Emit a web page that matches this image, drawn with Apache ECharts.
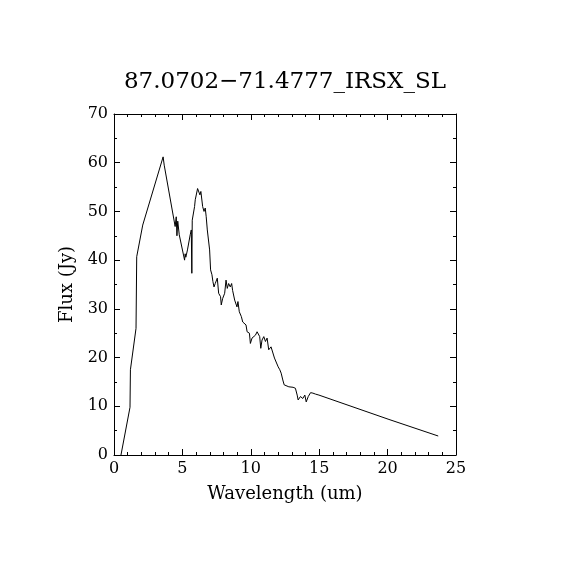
<!DOCTYPE html>
<html>
<head>
<meta charset="utf-8">
<script src="https://cdn.jsdelivr.net/npm/echarts@6/dist/echarts.min.js"></script>
<style>
  html, body { margin: 0; padding: 0; background: #fff; }
  #chart { width: 570px; height: 570px; }
</style>
</head>
<body>
<div id="chart"></div>
<script>
// spectrum: wavelength (um) and flux (Jy)
var wave = [0.51, 1.17, 1.2, 1.61, 1.66, 2.1, 3.59, 3.67, 4.47, 4.55, 4.6, 4.66, 4.77, 5.16, 5.2, 5.25,
    5.37, 5.57, 5.65, 5.69, 5.72, 5.89, 5.94, 6.0, 6.11, 6.2, 6.28, 6.35, 6.48, 6.58, 6.67, 6.74,
    6.82, 6.92, 6.99, 7.06, 7.16, 7.23, 7.31, 7.4, 7.48, 7.55, 7.65, 7.79, 7.84, 7.94, 8.09, 8.19,
    8.28, 8.38, 8.5, 8.6, 8.67, 8.82, 8.99, 9.06, 9.16, 9.31, 9.41, 9.53, 9.65, 9.73, 9.9, 9.97,
    10.09, 10.21, 10.34, 10.46, 10.58, 10.65, 10.73, 10.82, 10.95, 11.07, 11.19, 11.31, 11.48, 11.62,
    11.73, 11.85, 12.0, 12.12, 12.22, 12.34, 12.44, 12.58, 12.78, 12.92, 13.09, 13.26, 13.39, 13.46,
    13.63, 13.8, 13.95, 14.05, 14.2, 14.37, 14.54, 14.73, 14.98, 20.1, 23.7];
var flux = [0.0, 9.8, 17.5, 26.0, 40.7, 47.2, 61.2, 59.5, 46.9, 48.9, 45.0, 48.0, 45.2, 40.0, 41.3, 40.6,
    42.1, 45.2, 46.2, 37.3, 48.2, 51.0, 52.4, 52.0, 54.7, 54.4, 53.4, 54.1, 51.0, 50.0, 50.7, 48.9,
    46.2, 46.2, 42.1, 38.0, 37.0, 35.6, 34.5, 35.2, 34.9, 36.3, 33.2, 32.5, 30.8, 32.1, 33.2, 35.9,
    34.2, 35.2, 34.5, 35.2, 33.8, 31.8, 30.4, 31.5, 29.4, 28.4, 27.3, 27.0, 26.7, 25.3, 25.0, 22.9,
    24.0, 24.3, 24.6, 25.3, 25.7, 24.3, 21.9, 23.6, 24.3, 23.3, 24.0, 21.6, 22.2, 22.6,
    19.9, 19.5, 18.1, 17.5, 16.8, 15.4, 14.4, 14.7, 14.0, 14.4, 13.9, 13.7, 12.3, 11.3,
    12.0, 11.6, 12.3, 10.9, 12.0, 12.8, 12.7, 12.5, 12.3, 7.3, 3.9];

var titleText = '87.0702\u221271.4777_IRSX_SL';
var FONT = 'DejaVu Serif';

var points = [];
for (let i = 0; i < wave.length; i++) {
    points.push([wave[i], flux[i]]);
}

// plain box axis with inward ticks, the mirrored one carries no labels
function boxAxis(pos, max, step, split, showLabel) {
    return {
        type: 'value', position: pos, min: 0, max: max, interval: step,
        axisLine: { show: true, onZero: false, lineStyle: { color: '#000', width: 1 } },
        axisTick: { show: true, inside: true, length: 6, lineStyle: { color: '#000' } },
        minorTick: { show: true, splitNumber: split, length: 3, lineStyle: { color: '#000' } },
        splitLine: { show: false },
        axisLabel: { show: showLabel, color: '#000', fontFamily: FONT, fontSize: 16, margin: 6 }
    };
}

var xMain = boxAxis('bottom', 25, 5, 5, true);
xMain.name = 'Wavelength (um)';
xMain.nameLocation = 'middle';
xMain.nameGap = 30;
xMain.nameTextStyle = { color: '#000', fontFamily: FONT, fontSize: 18 };

var yMain = boxAxis('left', 70, 10, 2, true);
yMain.name = 'Flux (Jy)';
yMain.nameLocation = 'middle';
yMain.nameGap = 35;
yMain.nameTextStyle = { color: '#000', fontFamily: FONT, fontSize: 18 };

var chart = echarts.init(document.getElementById('chart'), null, { renderer: 'canvas' });
chart.setOption({
    backgroundColor: '#fff',
    animation: false,
    title: {
        text: titleText, left: 'center', top: 66,
        textStyle: { color: '#000', fontFamily: FONT, fontSize: 23, fontWeight: 'normal' }
    },
    grid: { left: 114, right: 114, top: 114, bottom: 115 },
    xAxis: [xMain, boxAxis('top', 25, 5, 5, false)],
    yAxis: [yMain, boxAxis('right', 70, 10, 2, false)],
    series: [{
        type: 'line', data: points, showSymbol: false,
        lineStyle: { color: '#000', width: 1 }
    }]
});
</script>
</body>
</html>
